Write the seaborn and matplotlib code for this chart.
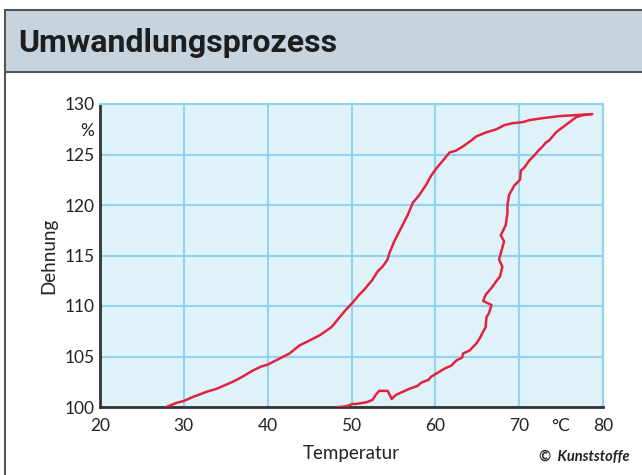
import numpy as np
import pandas as pd
import matplotlib
matplotlib.use("Agg")
import matplotlib.pyplot as plt
import seaborn as sns
from matplotlib.patches import Rectangle
from matplotlib.lines import Line2D

# ----- data -----
heat_temp = [27.9, 29.1, 30.0, 31.1, 32.7, 33.9, 35.3, 36.1, 37.0, 38.2, 39.2, 40.0,
             41.2, 42.6, 43.8, 44.8, 46.2, 47.6, 48.3, 49.3, 50.1, 50.9, 51.5, 52.5,
             53.1, 53.7, 54.3, 54.5, 55.1, 55.9, 56.7, 57.3, 58.1, 58.9, 59.5, 60.1,
             60.9, 61.7, 62.5, 63.3, 64.3, 64.9, 66.1, 67.3, 68.2, 69.2, 70.4, 71.2,
             72.8, 74.8, 76.8, 78.7]
heat_strain = [100.0, 100.4, 100.6, 101.0, 101.5, 101.8, 102.3, 102.6, 103.0, 103.6, 104.0, 104.2,
               104.7, 105.3, 106.1, 106.5, 107.1, 107.9, 108.6, 109.6, 110.3, 111.1, 111.6, 112.6,
               113.4, 113.9, 114.6, 115.2, 116.4, 117.7, 119.0, 120.2, 121.0, 122.0, 122.9, 123.6,
               124.4, 125.2, 125.4, 125.8, 126.4, 126.8, 127.2, 127.5, 127.9, 128.1, 128.2, 128.4,
               128.6, 128.8, 128.9, 129.0]

cool_temp = [78.7, 77.6, 76.8, 76.0, 75.2, 74.4, 73.6, 73.2, 72.8, 72.2, 71.8, 71.2,
             70.6, 70.2, 70.1, 69.4, 68.8, 68.6, 68.6, 68.4, 67.8, 68.2, 67.8, 67.6,
             68.0, 67.7, 67.4, 66.8, 66.0, 65.7, 66.7, 66.4, 66.1, 66.0, 65.6, 65.3,
             64.9, 64.1, 63.3, 63.2, 62.5, 61.9, 61.1, 60.1, 59.5, 59.2, 58.9, 58.3,
             57.9, 56.9, 56.1, 55.3, 54.8, 54.5, 54.3, 53.3, 52.9, 52.5, 51.9, 51.3,
             50.5, 50.1, 49.5, 48.7, 48.3]
cool_strain = [129.0, 128.9, 128.7, 128.2, 127.7, 127.2, 126.4, 126.2, 125.8, 125.3, 124.9, 124.4,
               123.7, 123.4, 122.5, 121.9, 121.0, 120.0, 119.2, 118.0, 117.0, 116.4, 115.2, 114.6,
               113.9, 112.9, 112.6, 111.9, 111.1, 110.5, 110.1, 109.3, 108.9, 107.9, 107.3, 106.8,
               106.3, 105.6, 105.3, 104.9, 104.6, 104.1, 103.8, 103.3, 103.0, 102.7, 102.6, 102.4,
               102.1, 101.8, 101.5, 101.2, 100.8, 101.3, 101.6, 101.6, 101.2, 100.7, 100.5, 100.4,
               100.3, 100.3, 100.1, 100.0, 100.0]

x_ticks = [20, 30, 40, 50, 60, 70, 80]
y_ticks = [100, 105, 110, 115, 120, 125, 130]
x_minor = [25, 35, 45, 55, 65, 75]
x_minor_labels = ["", "", "", "", "", "°C"]
y_minor = [102.5, 107.5, 112.5, 117.5, 122.5, 127.5]
y_minor_labels = ["", "", "", "", "", "%"]

df = pd.concat([
    pd.DataFrame({"Temperatur": heat_temp, "Dehnung": heat_strain, "Phase": "heizen"}),
    pd.DataFrame({"Temperatur": cool_temp, "Dehnung": cool_strain, "Phase": "kuehlen"}),
])

sns.set_theme(style="white")
plt.rcParams["font.family"] = ["Lato", "DejaVu Sans"]

red = "#e2233f"
grid_blue = "#8fd3ef"
bg_blue = "#dff2fa"
dark = "#333333"

fig = plt.figure(figsize=(6.42, 4.75), dpi=100)
ax = fig.add_axes([100 / 642, 1 - 407 / 475, 503 / 642, 303 / 475])
ax.set_facecolor(bg_blue)

sns.lineplot(data=df, x="Temperatur", y="Dehnung", units="Phase", estimator=None,
             sort=False, color=red, linewidth=1.8, ax=ax, zorder=3)

ax.set_xlim(20, 80)
ax.set_ylim(100, 130)
ax.set_xticks(x_ticks, labels=[str(t) for t in x_ticks])
ax.set_yticks(y_ticks, labels=[str(t) for t in y_ticks])
ax.set_xticks(x_minor, labels=x_minor_labels, minor=True)
ax.set_yticks(y_minor, labels=y_minor_labels, minor=True)
ax.grid(True, which="major", color=grid_blue, linewidth=1.5, zorder=1)
ax.set_axisbelow(True)

ax.tick_params(axis="both", which="major", length=0, labelsize=12.5, colors="#222222")
ax.tick_params(axis="y", which="both", pad=4)
ax.tick_params(axis="x", which="both", pad=8)
ax.tick_params(axis="both", which="minor", direction="in", length=7, width=1.5,
               color=grid_blue, labelsize=12.5, labelcolor="#222222")

for side in ["left", "bottom"]:
    ax.spines[side].set_color(dark)
    ax.spines[side].set_linewidth(2)
for side in ["top", "right"]:
    ax.spines[side].set_color(grid_blue)
    ax.spines[side].set_linewidth(1.5)

ax.set_xlabel("Temperatur", fontsize=13.5, color="#222222", labelpad=8)
ax.set_ylabel("Dehnung", fontsize=13.5, color="#222222", labelpad=5)

# header band and frame
fig.add_artist(Rectangle((5 / 642, 1 - 72 / 475), 1.0, 62 / 475, transform=fig.transFigure,
                         facecolor="#c6d4df", edgecolor="#555555", linewidth=1.5))
fig.add_artist(Line2D([5 / 642, 5 / 642], [0, 1 - 72 / 475], transform=fig.transFigure,
                      color="#555555", linewidth=1.5))
fig.text(18 / 642, 1 - 52 / 475, "Umwandlungsprozess", fontsize=23, fontweight="bold",
         family=["Roboto", "DejaVu Sans"], color="#1e1e1e", va="baseline")
fig.text(630 / 642, 1 - 457 / 475, "©  Kunststoffe", fontsize=10.5, fontweight="bold",
         fontstyle="italic", color="#222222", ha="right", va="center")

fig.savefig("out.png", dpi=100)
